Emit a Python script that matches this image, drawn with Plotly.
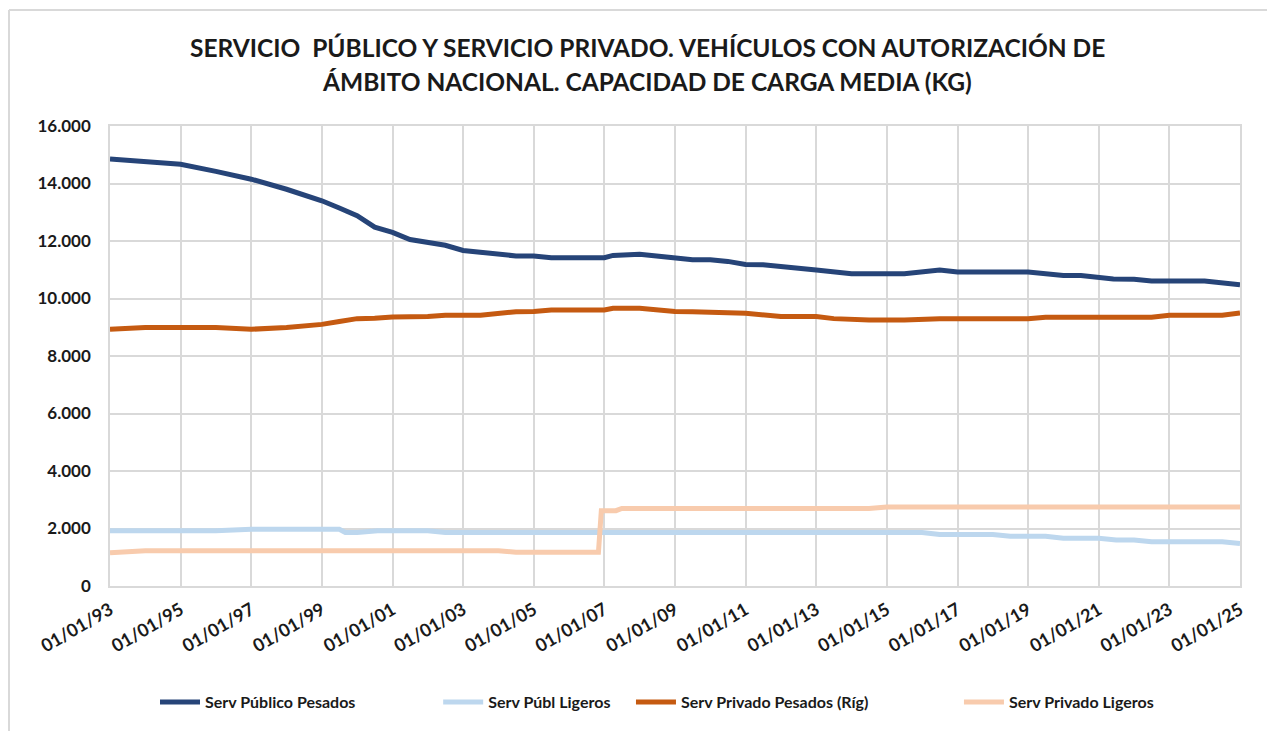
import plotly.graph_objects as go

# ---------------- data ----------------
pub_pes_dates = ["1993-01-01","1994-01-01","1995-01-01","1996-01-01","1997-01-01","1998-01-01",
                 "1999-01-01","1999-07-01","2000-01-01","2000-07-01","2001-01-01","2001-07-01",
                 "2002-01-01","2002-07-01","2003-01-01","2004-01-01","2004-07-01","2005-01-01",
                 "2005-07-01","2007-01-01","2007-04-01","2008-01-01","2009-01-01","2009-07-01",
                 "2010-01-01","2010-07-01","2011-01-01","2011-07-01","2013-01-01","2014-01-01",
                 "2015-07-01","2016-07-01","2017-01-01","2019-01-01","2020-01-01","2020-07-01",
                 "2021-06-01","2022-01-01","2022-07-01","2024-01-01","2025-01-01"]
pub_pes_vals = [14850,14780,14670,14420,14150,13800,
                13400,13150,12880,12480,12300,12050,
                11970,11850,11670,11570,11480,11480,
                11420,11420,11500,11540,11420,11350,
                11350,11290,11180,11170,10990,10860,
                10860,10990,10920,10920,10800,10800,
                10680,10670,10610,10610,10480]

pub_lig_dates = ["1993-01-01","1996-01-01","1997-01-01","1999-07-01","1999-09-01","2000-01-01",
                 "2000-08-01","2002-01-01","2002-07-01","2016-01-01","2016-07-01","2018-01-01",
                 "2018-07-01","2019-07-01","2020-01-01","2021-01-01","2021-07-01","2022-01-01",
                 "2022-07-01","2024-07-01","2025-01-01"]
pub_lig_vals = [1920,1920,1970,1970,1860,1860,
                1920,1920,1860,1860,1790,1790,
                1730,1730,1660,1660,1600,1600,
                1540,1540,1480]

priv_pes_dates = ["1993-01-01","1994-01-01","1996-01-01","1997-01-01","1998-01-01","1999-01-01",
                  "1999-07-01","2000-01-01","2000-07-01","2001-01-01","2002-01-01","2002-07-01",
                  "2003-07-01","2004-07-01","2005-01-01","2005-07-01","2007-01-01","2007-04-01",
                  "2008-01-01","2009-01-01","2009-07-01","2010-07-01","2011-01-01","2012-01-01",
                  "2013-01-01","2013-07-01","2014-07-01","2015-07-01","2016-07-01","2019-01-01",
                  "2019-07-01","2022-07-01","2023-01-01","2024-07-01","2025-01-01"]
priv_pes_vals = [8930,8990,8990,8930,8990,9100,
                 9200,9300,9310,9360,9370,9420,
                 9420,9540,9550,9600,9600,9660,
                 9660,9550,9540,9490,9490,9370,
                 9370,9300,9250,9250,9300,9300,
                 9350,9350,9420,9420,9500]

priv_lig_dates = ["1993-01-01","1994-01-01","2004-01-01","2004-07-01","2006-11-01","2006-12-01",
                  "2007-05-01","2007-07-01","2014-07-01","2015-01-01","2025-01-01"]
priv_lig_vals = [1160,1230,1230,1170,1170,2620,
                 2620,2700,2700,2750,2750]

series_names = ["Serv Público Pesados", "Serv Públ Ligeros", "Serv Privado Pesados (Ríg)", "Serv Privado Ligeros"]
colors = ["#264478", "#bdd7ee", "#c55a11", "#f8cbad"]
legend_pads = [20, 4, 22, 0]

title_lines = ["SERVICIO  PÚBLICO Y SERVICIO PRIVADO. VEHÍCULOS CON AUTORIZACIÓN DE",
               "ÁMBITO NACIONAL. CAPACIDAD DE CARGA MEDIA (KG)"]

FONT = "Lato"
TXT = "#1a1a1a"
W, H = 1267, 723
ML, MR, MT, MB = 102, 35, 118, 145
PW, PH = W - ML - MR, H - MT - MB

def px(x):
    return (x - ML) / PW

def py(y):
    return (H - MB - y) / PH

fig = go.Figure()
data = [(pub_pes_dates, pub_pes_vals), (pub_lig_dates, pub_lig_vals),
        (priv_pes_dates, priv_pes_vals), (priv_lig_dates, priv_lig_vals)]
for (d, v), name, c, p in zip(data, series_names, colors, legend_pads):
    fig.add_trace(go.Scatter(x=d, y=v, mode="lines", name=name + "\u00a0" * p,
                             line=dict(color=c, width=5)))

fig.update_layout(
    width=W, height=H,
    paper_bgcolor="white", plot_bgcolor="white",
    separators=",.",
    margin=dict(l=ML, r=MR, t=MT, b=MB, autoexpand=False),
    font=dict(family=FONT, color=TXT),
    showlegend=True,
    legend=dict(orientation="h", x=px(147), xanchor="left", y=py(694), yanchor="middle",
                font=dict(family=FONT, size=16, color=TXT, weight="bold"),
                itemwidth=40, tracegroupgap=0),
    xaxis=dict(type="date", range=["1993-01-01", "2025-01-01"],
               tick0="1993-01-01", dtick="M24", tickformat="%d/%m/%y",
               tickangle=-30, showgrid=True, gridcolor="#d9d9d9", gridwidth=1.5,
               showline=True, linecolor="#d9d9d9", linewidth=1.5, mirror=True,
               ticks="", ticklabelstandoff=5,
               tickfont=dict(family=FONT, size=18, color=TXT, weight="bold")),
    yaxis=dict(range=[0, 16000], dtick=2000, tickformat=",.0f",
               showgrid=True, gridcolor="#d9d9d9", gridwidth=1.5,
               showline=True, linecolor="#d9d9d9", linewidth=1.5, mirror=True,
               zeroline=False, ticks="", ticklabelstandoff=14,
               tickfont=dict(family=FONT, size=17, color=TXT, weight="bold")),
)

for line, yc in zip(title_lines, [39, 73]):
    fig.add_annotation(text="<b>" + line + "</b>", xref="paper", yref="paper",
                       x=px(639), y=py(yc), xanchor="center", yanchor="middle",
                       showarrow=False, font=dict(family=FONT, size=24.5, color=TXT))

# chart-area border (top and left edges visible)
fig.add_shape(type="line", xref="paper", yref="paper", x0=px(1), x1=px(W), y0=py(2), y1=py(2),
              line=dict(color="#d9d9d9", width=2))
fig.add_shape(type="line", xref="paper", yref="paper", x0=px(1), x1=px(1), y0=py(2), y1=py(H),
              line=dict(color="#d9d9d9", width=2))

fig.write_html("out.html")
